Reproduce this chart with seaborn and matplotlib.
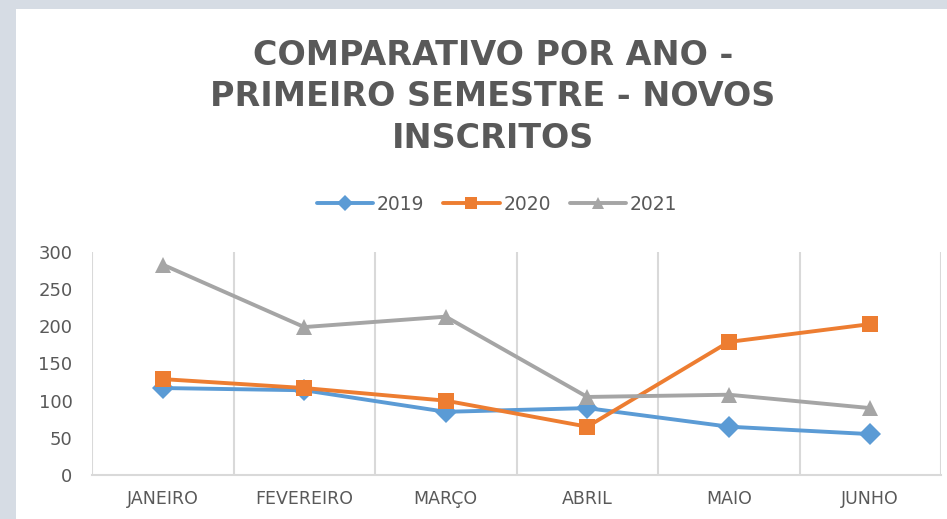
import matplotlib
matplotlib.use("Agg")
import matplotlib.pyplot as plt
import matplotlib.patches as mpatches
from matplotlib.ticker import FixedLocator, MultipleLocator
import seaborn as sns
import pandas as pd

meses = ["JANEIRO", "FEVEREIRO", "MARÇO", "ABRIL", "MAIO", "JUNHO"]
anos = ["2019", "2020", "2021"]
v2019 = [117, 114, 85, 90, 65, 55]
v2020 = [129, 117, 100, 65, 179, 203]
v2021 = [283, 199, 213, 105, 108, 90]
titulo = "COMPARATIVO POR ANO -\nPRIMEIRO SEMESTRE - NOVOS\nINSCRITOS"

rows = []
for ano, vals in zip(anos, [v2019, v2020, v2021]):
    for i, (m, v) in enumerate(zip(meses, vals)):
        rows.append({"idx": i, "mes": m, "ano": ano, "valor": v})
df = pd.DataFrame(rows)

sns.set_theme(style="white")
plt.rcParams["font.family"] = ["DejaVu Sans"]

txt = "#595959"
grid = "#d9d9d9"
palette = {"2019": "#5b9bd5", "2020": "#ed7d31", "2021": "#a5a5a5"}

fig = plt.figure(figsize=(9.47, 5.19), dpi=100)
fig.patch.set_facecolor("#d6dce4")
fig.patches.append(mpatches.Rectangle((16 / 947, 0), 1, 1 - 9 / 519,
                                      transform=fig.transFigure,
                                      facecolor="white", edgecolor="none",
                                      zorder=-10))

ax = fig.add_axes([92 / 947, 1 - 475 / 519, (941 - 92) / 947, (475 - 252) / 519])
ax.set_facecolor("none")
ax.set_zorder(5)

sns.lineplot(data=df, x="idx", y="valor", hue="ano", style="ano",
             palette=palette, markers={"2019": "D", "2020": "s", "2021": "^"},
             dashes=False, sort=False, linewidth=2.8, markersize=11,
             markeredgewidth=0, ax=ax, legend=True)

ax.set_xlim(-0.5, 5.5)
ax.set_ylim(0, 300)
ax.yaxis.set_major_locator(MultipleLocator(50))
ax.set_xticks(range(len(meses)))
ax.set_xticklabels(meses)
ax.xaxis.set_minor_locator(FixedLocator([i - 0.5 for i in range(len(meses) + 1)]))
ax.grid(which="minor", axis="x", color=grid, linewidth=1.5)
ax.grid(which="major", visible=False)
ax.set_axisbelow(True)
ax.tick_params(axis="both", which="both", length=0)
ax.tick_params(axis="x", labelsize=12.5, colors=txt, pad=11)
ax.tick_params(axis="y", labelsize=13, colors=txt, pad=14)
for s in ["top", "right", "left"]:
    ax.spines[s].set_visible(False)
ax.spines["bottom"].set_color(grid)
ax.spines["bottom"].set_linewidth(1.5)
ax.set_xlabel("")
ax.set_ylabel("")

handles, labels = ax.get_legend_handles_labels()
for h in handles:
    h.set_markersize(8)
leg = ax.legend(handles, labels, loc="center", bbox_to_anchor=(497 / 947, 1 - 204 / 519),
                bbox_transform=fig.transFigure, ncol=3, frameon=False,
                fontsize=13.5, handlelength=3.0, columnspacing=1.0, handletextpad=0.2)
for t in leg.get_texts():
    t.set_color(txt)

fig.text(493 / 947, 1 - 97 / 519, titulo, ha="center", va="center",
         multialignment="center", fontsize=24, fontweight="bold", color=txt,
         linespacing=1.33)

fig.savefig("out.png", dpi=100, facecolor=fig.get_facecolor())
